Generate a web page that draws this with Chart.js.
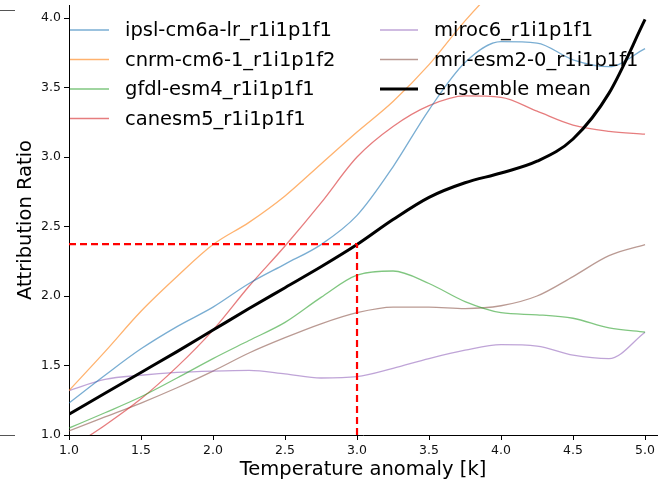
<!DOCTYPE html>
<html>
<head>
<meta charset="utf-8">
<script src="https://cdn.jsdelivr.net/npm/chart.js@4.4.1/dist/chart.umd.min.js"></script>
<style>
  html, body { margin: 0; padding: 0; background: #fff; }
  canvas { display: block; }
</style>
</head>
<body>
<canvas id="chart" width="668" height="485"></canvas>
<script>
// temperature anomaly grid (k)
const temps = [1.0, 1.25, 1.5, 1.75, 2.0, 2.25, 2.5, 2.75, 3.0, 3.25, 3.5, 3.75, 4.0, 4.25, 4.5, 4.75, 5.0];

// attribution ratio per model
const ipsl  = [1.23, 1.43, 1.62, 1.78, 1.92, 2.09, 2.23, 2.37, 2.58, 2.93, 3.34, 3.68, 3.83, 3.82, 3.70, 3.65, 3.78];
const cnrm  = [1.32, 1.60, 1.89, 2.14, 2.37, 2.53, 2.72, 2.95, 3.18, 3.40, 3.665, 3.98, 4.25, 4.45, 4.60, 4.70, 4.80];
const gfdl  = [1.05, 1.16, 1.275, 1.41, 1.55, 1.68, 1.81, 1.99, 2.15, 2.18, 2.09, 1.96, 1.88, 1.865, 1.84, 1.77, 1.74];
const canesm = [0.90, 1.07, 1.26, 1.49, 1.755, 2.07, 2.36, 2.67, 3.00, 3.22, 3.37, 3.44, 3.43, 3.33, 3.23, 3.185, 3.165];
const miroc = [1.32, 1.40, 1.43, 1.45, 1.46, 1.465, 1.44, 1.41, 1.42, 1.48, 1.55, 1.61, 1.65, 1.64, 1.575, 1.55, 1.74];
const mri   = [1.03, 1.13, 1.23, 1.34, 1.46, 1.59, 1.70, 1.80, 1.88, 1.92, 1.92, 1.91, 1.93, 2.00, 2.14, 2.29, 2.37];
const ensembleMean = [1.15, 1.30, 1.45, 1.60, 1.755, 1.91, 2.06, 2.21, 2.37, 2.55, 2.71, 2.815, 2.885, 2.97, 3.13, 3.46, 3.99];

const modelNames = ['ipsl-cm6a-lr_r1i1p1f1', 'cnrm-cm6-1_r1i1p1f2', 'gfdl-esm4_r1i1p1f1',
                    'canesm5_r1i1p1f1', 'miroc6_r1i1p1f1', 'mri-esm2-0_r1i1p1f1'];
const modelSeries = [ipsl, cnrm, gfdl, canesm, miroc, mri];
const modelColors = ['rgba(31,119,180,0.6)', 'rgba(255,127,14,0.6)', 'rgba(44,160,44,0.6)',
                     'rgba(214,39,40,0.6)', 'rgba(148,103,189,0.6)', 'rgba(140,86,75,0.6)'];

// reference point: 3 k warming
const refTemp = 3.0;
const refRatio = 2.374;

const yTicks = [1.0, 1.5, 2.0, 2.5, 3.0, 3.5, 4.0];
const xTicks = [1.0, 1.5, 2.0, 2.5, 3.0, 3.5, 4.0, 4.5, 5.0];

const FONT = 'DejaVu Sans';

const toPts = vals => temps.map((t, i) => ({ x: t, y: vals[i] }));

const datasets = modelSeries.map((vals, i) => ({
  label: modelNames[i],
  data: toPts(vals),
  borderColor: modelColors[i],
  borderWidth: 1.3,
  pointRadius: 0,
  cubicInterpolationMode: 'monotone',
  clip: 0,
  order: 2 + i
}));

datasets.push({
  label: 'ensemble mean',
  data: toPts(ensembleMean),
  borderColor: '#000',
  borderWidth: 3,
  pointRadius: 0,
  cubicInterpolationMode: 'monotone',
  clip: 0,
  order: 1
});

// red dashed guides
datasets.push({
  label: '_hline',
  data: [{ x: 1.0, y: refRatio }, { x: refTemp, y: refRatio }],
  borderColor: '#ff0000',
  borderWidth: 2.2,
  borderDash: [7, 4],
  pointRadius: 0,
  clip: 0,
  order: 0
});
datasets.push({
  label: '_vline',
  data: [{ x: refTemp, y: 1.0 }, { x: refTemp, y: refRatio }],
  borderColor: '#ff0000',
  borderWidth: 2.2,
  borderDash: [7, 4],
  pointRadius: 0,
  clip: 0,
  order: 0
});

// two-column legend without frame, like matplotlib
const legendPlugin = {
  id: 'mplLegend',
  afterDraw(chart) {
    const ctx = chart.ctx;
    const entries = chart.data.datasets.filter(d => !d.label.startsWith('_'));
    const rows = [30, 59.5, 89, 118.5];
    const cols = [{ x0: 70, x1: 109, tx: 125 }, { x0: 380, x1: 418, tx: 434 }];
    ctx.save();
    ctx.font = `19.5px "${FONT}"`;
    ctx.textBaseline = 'middle';
    ctx.fillStyle = '#000';
    entries.forEach((d, i) => {
      const c = cols[i < 4 ? 0 : 1];
      const y = rows[i < 4 ? i : i - 4];
      ctx.beginPath();
      ctx.strokeStyle = d.borderColor;
      ctx.lineWidth = d.borderWidth;
      ctx.moveTo(c.x0, y);
      ctx.lineTo(c.x1, y);
      ctx.stroke();
      ctx.fillText(d.label, c.tx, y + 1);
    });
    // stray tick marks of a neighbouring axis at the left edge
    ctx.strokeStyle = '#555';
    ctx.lineWidth = 1;
    ctx.beginPath();
    ctx.moveTo(0, 10.5); ctx.lineTo(15, 10.5);
    ctx.moveTo(0, 435.5); ctx.lineTo(15, 435.5);
    ctx.stroke();
    ctx.restore();
  }
};

new Chart(document.getElementById('chart'), {
  type: 'line',
  data: { datasets },
  options: {
    responsive: false,
    animation: false,
    events: [],
    layout: { padding: { left: 0, right: 11, top: 5, bottom: 0 } },
    plugins: { legend: { display: false }, tooltip: { enabled: false } },
    scales: {
      x: {
        type: 'linear',
        min: 1.0,
        max: 5.083,
        afterFit: s => { s.height = 50; s.paddingLeft = 0; s.paddingRight = 0; },
        afterBuildTicks: s => { s.ticks = xTicks.map(v => ({ value: v })); },
        ticks: {
          color: '#111',
          font: { family: FONT, size: 12.5 },
          padding: 3,
          maxRotation: 0,
          callback: v => v.toFixed(1)
        },
        grid: { drawOnChartArea: false, drawTicks: true, tickLength: 5, tickColor: '#000' },
        border: { display: true, color: '#000', width: 1 },
        title: {
          display: true,
          text: 'Temperature anomaly [k]',
          color: '#000',
          font: { family: FONT, size: 19.5 },
          padding: { top: 0, bottom: 3.3 }
        }
      },
      y: {
        type: 'linear',
        min: 1.0,
        max: 4.094,
        afterFit: s => { s.width = 69; s.paddingTop = 0; s.paddingBottom = 0; },
        afterBuildTicks: s => { s.ticks = yTicks.map(v => ({ value: v })); },
        ticks: {
          color: '#111',
          font: { family: FONT, size: 12.5 },
          padding: 3,
          callback: v => v.toFixed(1)
        },
        grid: { drawOnChartArea: false, drawTicks: true, tickLength: 5, tickColor: '#000' },
        border: { display: true, color: '#000', width: 1 },
        title: {
          display: true,
          text: 'Attribution Ratio',
          color: '#000',
          font: { family: FONT, size: 19.5 },
          padding: { top: 14.3, bottom: 0 }
        }
      }
    }
  },
  plugins: [legendPlugin]
});
</script>
</body>
</html>
